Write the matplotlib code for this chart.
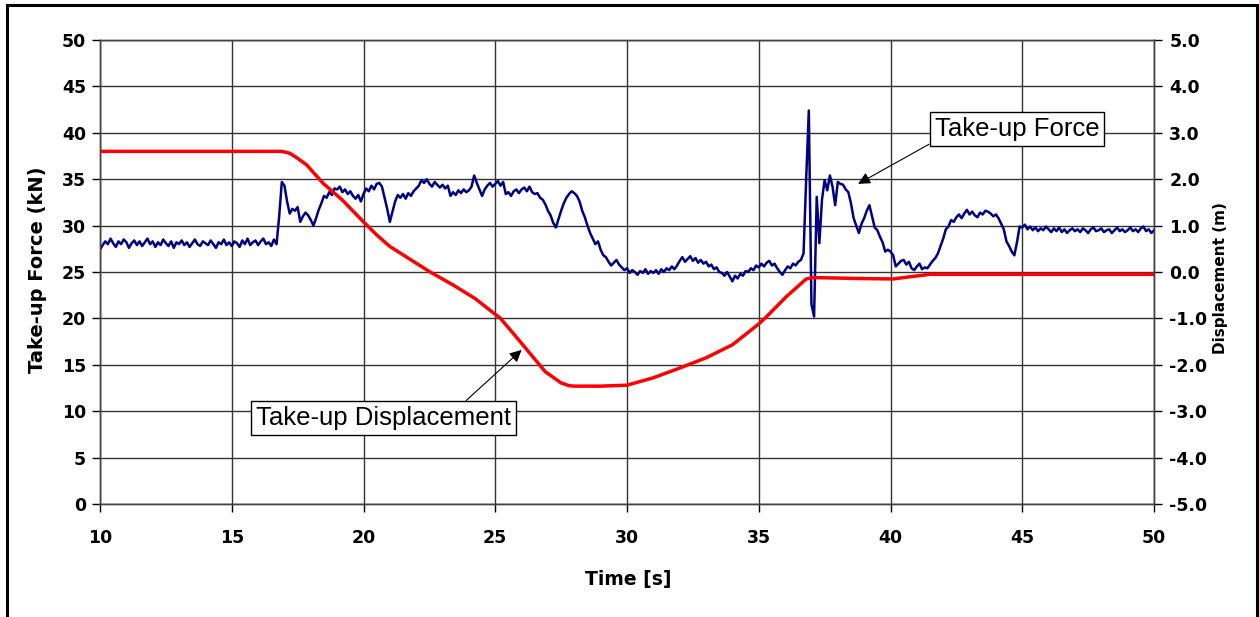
import numpy as np
import matplotlib
matplotlib.use("Agg")
import matplotlib.pyplot as plt
from matplotlib.patches import Rectangle

# %% Data
# take-up force, sampled every 0.1 s from 10 s to 50 s (one row per second)
force_rows = [
    [27.4, 27.9, 28.3, 28.0, 28.6, 28.1, 27.7, 28.3, 28.0, 28.5],  # 10
    [28.2, 27.6, 28.1, 28.4, 27.9, 28.3, 27.8, 28.2, 28.6, 28.0],  # 11
    [28.3, 27.7, 28.2, 27.9, 28.5, 28.1, 27.8, 28.3, 27.6, 28.2],  # 12
    [28.0, 28.4, 27.9, 28.2, 27.7, 28.1, 28.5, 28.0, 27.8, 28.3],  # 13
    [28.1, 27.9, 28.4, 28.0, 27.6, 28.2, 28.0, 28.5, 27.9, 28.2],  # 14
    [27.8, 28.3, 28.1, 27.7, 28.4, 28.0, 28.6, 27.9, 28.2, 28.4],  # 15
    [27.9, 28.3, 28.6, 28.0, 28.2, 27.8, 28.5, 28.0, 31.0, 34.7],  # 16
    [34.3, 32.6, 31.3, 31.8, 31.6, 32.0, 30.4, 31.0, 31.4, 31.1],  # 17
    [30.6, 30.0, 30.8, 31.7, 32.4, 33.2, 33.0, 33.6, 33.3, 34.0],  # 18
    [33.9, 34.2, 33.6, 33.9, 33.4, 33.7, 33.2, 32.9, 33.3, 32.6],  # 19
    [33.4, 34.0, 33.7, 34.3, 33.9, 34.5, 34.6, 34.2, 33.0, 31.8],  # 20
    [30.4, 31.5, 32.6, 33.3, 33.0, 33.4, 32.9, 33.5, 33.2, 33.7],  # 21
    [34.0, 34.3, 34.9, 34.6, 35.0, 34.5, 34.2, 34.7, 34.4, 34.1],  # 22
    [34.4, 34.0, 34.3, 33.2, 33.6, 33.3, 33.8, 33.5, 33.9, 33.6],  # 23
    [33.8, 34.2, 35.4, 34.6, 33.9, 33.2, 33.9, 34.3, 34.6, 34.2],  # 24
    [34.5, 34.8, 34.3, 34.7, 33.4, 33.6, 33.2, 33.7, 33.9, 33.5],  # 25
    [33.9, 34.1, 33.7, 34.2, 33.6, 33.4, 33.5, 33.0, 32.8, 32.3],  # 26
    [31.6, 31.1, 30.3, 29.8, 30.7, 31.6, 32.4, 33.0, 33.4, 33.7],  # 27
    [33.5, 33.2, 32.6, 31.6, 30.9, 30.0, 29.2, 28.6, 28.0, 28.3],  # 28
    [27.4, 26.8, 26.6, 26.1, 25.7, 26.0, 26.3, 25.8, 25.5, 25.2],  # 29
    [25.4, 24.9, 25.2, 25.0, 24.7, 25.1, 24.9, 25.3, 24.8, 25.1],  # 30
    [24.9, 25.2, 24.8, 25.3, 25.0, 25.4, 25.2, 25.6, 25.3, 25.7],  # 31
    [26.2, 26.6, 26.1, 26.4, 26.7, 26.2, 26.5, 26.0, 26.3, 25.9],  # 32
    [26.1, 25.6, 25.8, 25.3, 25.5, 25.0, 24.9, 24.6, 25.0, 24.5],  # 33
    [24.0, 24.6, 24.3, 24.8, 24.6, 25.1, 25.0, 25.4, 25.2, 25.7],  # 34
    [25.5, 25.9, 25.6, 26.0, 26.2, 25.7, 25.9, 25.4, 25.0, 24.7],  # 35
    [25.2, 25.6, 25.4, 25.9, 25.7, 26.1, 26.3, 27.0, 35.0, 42.4],  # 36
    [21.5, 20.2, 33.1, 28.1, 32.8, 34.9, 33.8, 35.4, 34.2, 32.2],  # 37
    [34.7, 34.5, 34.4, 33.9, 33.6, 32.4, 30.8, 30.0, 29.2, 30.2],  # 38
    [30.8, 31.6, 32.2, 31.0, 29.8, 29.5, 28.8, 28.2, 27.2, 27.4],  # 39
    [27.2, 26.8, 25.6, 25.9, 26.2, 26.3, 25.8, 26.1, 25.4, 25.2],  # 40
    [25.6, 25.9, 25.3, 25.5, 25.4, 25.8, 26.2, 26.5, 27.0, 27.8],  # 41
    [28.6, 29.6, 29.9, 30.6, 30.4, 30.9, 31.2, 30.8, 31.3, 31.7],  # 42
    [31.2, 31.5, 31.1, 30.9, 31.4, 31.2, 31.6, 31.5, 31.3, 31.0],  # 43
    [31.2, 30.8, 30.2, 29.6, 28.3, 27.8, 27.2, 26.8, 28.2, 29.9],  # 44
    [29.8, 30.1, 29.6, 29.9, 29.5, 29.8, 29.4, 29.7, 29.5, 29.9],  # 45
    [29.6, 29.3, 29.7, 29.4, 29.8, 29.3, 29.6, 29.2, 29.5, 29.7],  # 46
    [29.4, 29.6, 29.3, 29.7, 29.5, 29.2, 29.6, 29.8, 29.4, 29.5],  # 47
    [29.7, 29.3, 29.5, 29.6, 29.2, 29.5, 29.8, 29.4, 29.6, 29.3],  # 48
    [29.5, 29.8, 29.4, 29.6, 29.3, 29.7, 29.9, 29.4, 29.6, 29.2],  # 49
    [29.5],                                                          # 50
]
force_kN = np.concatenate([np.array(r) for r in force_rows])
force_t = np.round(10.0 + 0.1 * np.arange(len(force_kN)), 1)

# take-up displacement (m)
disp_t = [10.0, 16.9, 17.2, 17.5, 17.84, 18.47, 19.2, 20.0, 20.5, 21.0, 21.5,
          22.5, 23.4, 24.23, 25.2, 25.9, 26.9, 27.5, 27.8, 28.0, 29.0, 30.0,
          31.0, 32.0, 33.0, 34.0, 35.0, 35.3, 36.05, 36.8, 37.07, 38.8, 40.1,
          40.5, 41.5, 50.0]
disp_m = [2.6, 2.6, 2.56, 2.45, 2.31, 1.91, 1.55, 1.08, 0.8, 0.55, 0.37,
          0.01, -0.28, -0.57, -1.0, -1.47, -2.15, -2.39, -2.45, -2.46, -2.46,
          -2.44, -2.28, -2.07, -1.85, -1.57, -1.12, -0.96, -0.53, -0.15, -0.12,
          -0.14, -0.15, -0.12, -0.05, -0.05]

x_ticks = [10, 15, 20, 25, 30, 35, 40, 45, 50]
force_ticks = [0, 5, 10, 15, 20, 25, 30, 35, 40, 45, 50]
disp_ticks = [-5.0, -4.0, -3.0, -2.0, -1.0, 0.0, 1.0, 2.0, 3.0, 4.0, 5.0]

# %% Plot
bold = dict(family="DejaVu Sans", weight="bold")

fig = plt.figure(figsize=(12.59, 6.17), dpi=100)
ax = fig.add_axes([100 / 1259, 113 / 617, 1054 / 1259, 464 / 617])
ax2 = ax.twinx()

ax.plot(force_t, force_kN, color="#000080", lw=1.8)
ax2.plot(disp_t, disp_m, color="#ff0000", lw=2.5)

ax.set_xlim(10, 50)
ax.set_ylim(0, 50)
ax2.set_ylim(-5, 5)
ax.set_xticks(x_ticks)
ax.set_yticks(force_ticks)
ax2.set_yticks(disp_ticks)
ax2.set_yticklabels([f"{v:.1f}" for v in disp_ticks])

ax.grid(True, color="#333333", lw=1)
ax.set_axisbelow(True)
for a in (ax, ax2):
    for s in a.spines.values():
        s.set_color("#444444")
        s.set_linewidth(1)
    a.tick_params(direction="out", length=6, width=1, color="black")
    for lab in a.get_xticklabels() + a.get_yticklabels():
        lab.set_fontproperties(dict(family="DejaVu Sans", weight="bold", size=12.5))
ax.tick_params(axis="y", pad=4)
ax.tick_params(axis="x", pad=12)
ax2.tick_params(axis="y", pad=5)

ax.set_xlabel("Time [s]", fontsize=13.5, **bold)
ax.xaxis.set_label_coords(0.501, -0.142)
ax.set_ylabel("Take-up Force (kN)", fontsize=14, **bold)
ax.yaxis.set_label_coords(-0.0506, 0.504)
ax2.set_ylabel("Displacement (m)", fontsize=11, **bold)
ax2.yaxis.set_label_coords(1.056, 0.487)

box = dict(boxstyle="square,pad=0.2", fc="white", ec="black", lw=1)
arrow = dict(arrowstyle="-|>", color="black", lw=0.8, mutation_scale=18,
             shrinkA=0, shrinkB=0)
ax2.annotate("Take-up Force", xy=(38.77, 1.9), xytext=(44.8, 3.08),
             fontsize=18.5, family="Liberation Sans", ha="center", va="center",
             bbox=box, arrowprops=dict(arrow, relpos=(0.0, 0.0)))
ax2.annotate("Take-up Displacement", xy=(26.0, -1.68), xytext=(20.76, -3.15),
             fontsize=18.5, family="Liberation Sans", ha="center", va="center",
             bbox=box, arrowprops=dict(arrow, relpos=(0.8, 1.0)))

# outer frame
fig.patches.append(Rectangle((7 / 1259, -0.02), 1250 / 1259, 1.02 - 5 / 617,
                             transform=fig.transFigure, fill=False,
                             ec="black", lw=2.2))

fig.savefig("out.png", dpi=100)
